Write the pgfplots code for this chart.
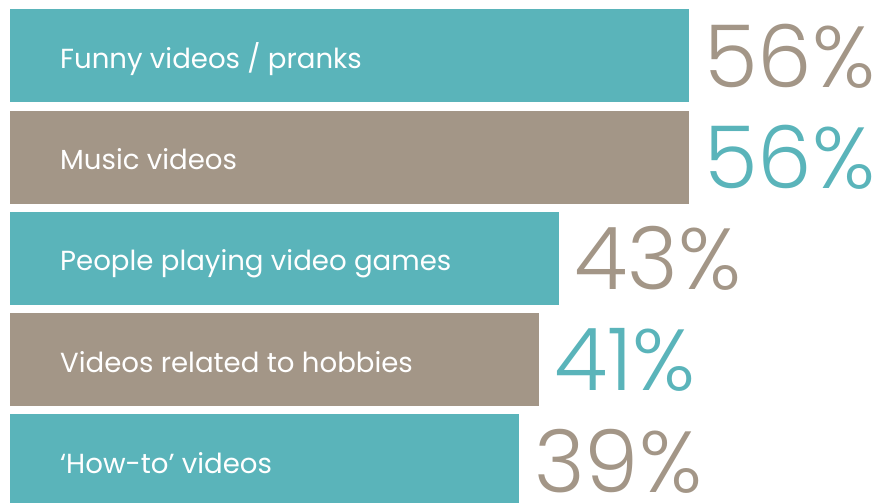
\documentclass[border=0pt]{standalone}
\usepackage{pgfplots}
\pgfplotsset{compat=1.18}
\usepackage{fontspec}
\setmainfont{Poppins}
\newfontfamily\plight{Poppins Light}
\definecolor{tealc}{HTML}{5AB4BA}
\definecolor{taupe}{HTML}{A39687}
\begin{document}
\begin{tikzpicture}
\begin{axis}[
  scale only axis, width=881bp, height=503bp,
  axis lines=none, ticks=none,
  xbar, bar width=93bp, bar shift=0pt,
  x coord trafo/.code={\pgfmathparse{#1+11.9}},
  x coord inv trafo/.code={\pgfmathparse{#1-11.9}},
  xmin=-12.9, xmax=75.2,
  y dir=reverse, ymin=0.447, ymax=5.415,
  nodes near coords, point meta=explicit symbolic,
  every node near coord/.append style={anchor=west, inner sep=0pt, xshift=15bp,
     font=\plight\fontsize{87}{87}\selectfont},
  clip=true,
]
\addplot[draw=none, fill=tealc, every node near coord/.append style={text=taupe}] coordinates {(56,1) [56\%]};
\addplot[draw=none, fill=taupe, every node near coord/.append style={text=tealc}] coordinates {(56,2) [56\%]};
\addplot[draw=none, fill=tealc, every node near coord/.append style={text=taupe}] coordinates {(43,3) [43\%]};
\addplot[draw=none, fill=taupe, every node near coord/.append style={text=tealc}] coordinates {(41,4) [41\%]};
\addplot[draw=none, fill=tealc, every node near coord/.append style={text=taupe}] coordinates {(39,5) [39\%]};
\begin{scope}[every node/.style={anchor=base west, inner sep=0pt, text=white, font=\fontsize{27.7}{27.7}\selectfont, yshift=-12.5bp}]
\node at (axis cs:-6.9,1) {Funny videos / pranks};
\node at (axis cs:-6.9,2) {Music videos};
\node at (axis cs:-6.9,3) {People playing video games};
\node at (axis cs:-6.9,4) {Videos related to hobbies};
\node at (axis cs:-6.9,5) {‘How-to’ videos};
\end{scope}
\end{axis}
\pgfresetboundingbox
\useasboundingbox (current axis.south west) rectangle (current axis.north east);
\end{tikzpicture}
\end{document}
